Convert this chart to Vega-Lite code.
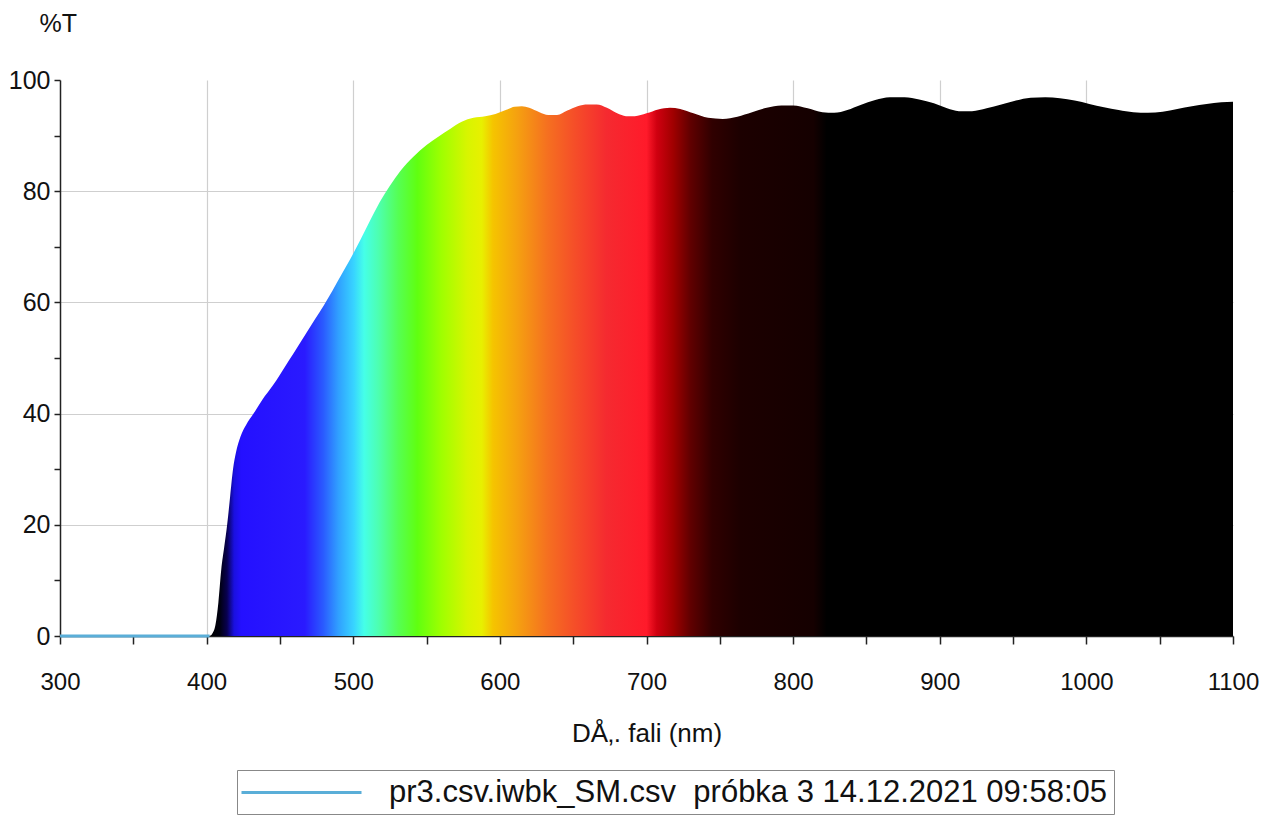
{
  "$schema": "https://vega.github.io/schema/vega-lite/v6.json",
  "width": 1173,
  "height": 556,
  "autosize": {"type": "none"},
  "padding": {"left": 60, "top": 80, "right": 47, "bottom": 193},
  "background": "white",
  "config": {
    "font": "Liberation Sans",
    "view": {"stroke": null},
    "axis": {
      "labelFont": "Liberation Sans",
      "titleFont": "Liberation Sans",
      "labelColor": "#111",
      "titleColor": "#111",
      "domainColor": "#222",
      "tickColor": "#222",
      "gridColor": "#cfcfcf",
      "gridWidth": 1.2
    }
  },
  "datasets": {
    "spectrum": [
      {"wl": 300, "T": 0}, {"wl": 350, "T": 0}, {"wl": 400, "T": 0}, {"wl": 402, "T": 0},
      {"wl": 404, "T": 0.5}, {"wl": 406, "T": 2}, {"wl": 408, "T": 6}, {"wl": 410, "T": 12},
      {"wl": 412, "T": 16}, {"wl": 414, "T": 20}, {"wl": 416, "T": 25}, {"wl": 418, "T": 30},
      {"wl": 420, "T": 33}, {"wl": 423, "T": 35.8}, {"wl": 427, "T": 38}, {"wl": 432, "T": 40},
      {"wl": 438, "T": 42.5}, {"wl": 445, "T": 45}, {"wl": 450, "T": 47}, {"wl": 456, "T": 49.5},
      {"wl": 462, "T": 52}, {"wl": 468, "T": 54.5}, {"wl": 474, "T": 57}, {"wl": 480, "T": 59.5},
      {"wl": 486, "T": 62.2}, {"wl": 492, "T": 65}, {"wl": 498, "T": 67.8}, {"wl": 505, "T": 71.3},
      {"wl": 512, "T": 75}, {"wl": 518, "T": 78}, {"wl": 525, "T": 81}, {"wl": 532, "T": 83.6},
      {"wl": 541, "T": 86.2}, {"wl": 550, "T": 88.3}, {"wl": 558, "T": 89.8}, {"wl": 566, "T": 91.2},
      {"wl": 574, "T": 92.5}, {"wl": 582, "T": 93.2}, {"wl": 590, "T": 93.5}, {"wl": 597, "T": 93.9},
      {"wl": 604, "T": 94.6}, {"wl": 610, "T": 95.2}, {"wl": 615, "T": 95.3}, {"wl": 620, "T": 95},
      {"wl": 627, "T": 94.2}, {"wl": 633, "T": 93.7}, {"wl": 639, "T": 93.7}, {"wl": 646, "T": 94.5},
      {"wl": 653, "T": 95.3}, {"wl": 660, "T": 95.6}, {"wl": 666, "T": 95.6}, {"wl": 673, "T": 95},
      {"wl": 680, "T": 94}, {"wl": 686, "T": 93.5}, {"wl": 692, "T": 93.5}, {"wl": 700, "T": 94},
      {"wl": 708, "T": 94.7}, {"wl": 716, "T": 95}, {"wl": 723, "T": 94.8}, {"wl": 732, "T": 94},
      {"wl": 742, "T": 93.2}, {"wl": 752, "T": 93}, {"wl": 762, "T": 93.4}, {"wl": 772, "T": 94.2},
      {"wl": 782, "T": 95}, {"wl": 792, "T": 95.4}, {"wl": 800, "T": 95.4}, {"wl": 810, "T": 94.9},
      {"wl": 820, "T": 94.2}, {"wl": 828, "T": 94.1}, {"wl": 837, "T": 94.6}, {"wl": 846, "T": 95.5},
      {"wl": 856, "T": 96.4}, {"wl": 866, "T": 96.9}, {"wl": 876, "T": 96.9}, {"wl": 886, "T": 96.5},
      {"wl": 896, "T": 95.8}, {"wl": 905, "T": 94.9}, {"wl": 913, "T": 94.4}, {"wl": 922, "T": 94.4},
      {"wl": 932, "T": 94.9}, {"wl": 942, "T": 95.6}, {"wl": 952, "T": 96.3}, {"wl": 962, "T": 96.8},
      {"wl": 972, "T": 96.9}, {"wl": 982, "T": 96.7}, {"wl": 992, "T": 96.3}, {"wl": 1002, "T": 95.7},
      {"wl": 1012, "T": 95.1}, {"wl": 1022, "T": 94.6}, {"wl": 1032, "T": 94.2}, {"wl": 1042, "T": 94.1},
      {"wl": 1052, "T": 94.3}, {"wl": 1062, "T": 94.8}, {"wl": 1072, "T": 95.3}, {"wl": 1082, "T": 95.7},
      {"wl": 1092, "T": 96}, {"wl": 1100, "T": 96.1}
    ]
  },
  "layer": [
    {
      "data": {"name": "spectrum"},
      "transform": [{"filter": "datum.wl <= 402"}],
      "mark": {"type": "line", "strokeWidth": 3, "interpolate": "monotone"},
      "encoding": {
        "x": {
          "field": "wl", "type": "quantitative",
          "scale": {"domain": [300, 1100], "nice": false, "zero": false},
          "axis": {
            "values": [300, 350, 400, 450, 500, 550, 600, 650, 700, 750, 800, 850, 900, 950, 1000, 1050, 1100],
            "labelExpr": "datum.value % 100 === 0 ? datum.label : ''",
            "format": "d",
            "labelOverlap": false,
            "labelFontSize": 24,
            "labelPadding": 26,
            "labelFlush": false,
            "tickSize": 8,
            "tickWidth": 1.5,
            "domainWidth": 1.5,
            "grid": true,
            "gridOpacity": {"condition": {"test": "datum.value % 100 !== 0 || datum.value === 300 || datum.value === 1100", "value": 0}, "value": 1},
            "title": "DÅ‚. fali (nm)",
            "titleFontSize": 26,
            "titleFontWeight": "normal",
            "titlePadding": 26
          }
        },
        "y": {
          "field": "T", "type": "quantitative",
          "scale": {"domain": [0, 100], "nice": false},
          "axis": {
            "values": [0, 10, 20, 30, 40, 50, 60, 70, 80, 90, 100],
            "labelExpr": "datum.value % 20 === 0 ? datum.label : ''",
            "labelOverlap": false,
            "labelFontSize": 25,
            "labelPadding": 4,
            "tickSize": 6,
            "tickWidth": 1.5,
            "domainWidth": 1.5,
            "grid": true,
            "gridOpacity": {"condition": {"test": "datum.value % 20 !== 0 || datum.value === 0 || datum.value === 100", "value": 0}, "value": 1},
            "title": "%T",
            "titleAngle": 0,
            "titleFontSize": 25,
            "titleFontWeight": "normal",
            "titleAlign": "left",
            "titleBaseline": "top",
            "titleX": -21,
            "titleY": -69
          }
        },
        "color": {
          "datum": "pr3.csv.iwbk_SM.csv\u00a0 próbka 3 14.12.2021 09:58:05",
          "type": "nominal",
          "scale": {"range": ["#5aaed8"]},
          "legend": {
            "title": null,
            "orient": "none",
            "legendX": 177,
            "legendY": 690,
            "symbolType": "M-4,0H4",
            "symbolSize": 900,
            "symbolStrokeWidth": 3,
            "symbolOffset": 42,
            "labelFontSize": 31,
            "labelFont": "Liberation Sans",
            "labelColor": "#111",
            "labelOffset": 71,
            "labelLimit": 2000,
            "padding": 6,
            "strokeColor": "#888",
            "fillColor": "white"
          }
        }
      }
    },
    {
      "data": {"name": "spectrum"},
      "transform": [{"filter": "datum.wl >= 402"}],
      "mark": {
        "type": "area",
        "interpolate": "monotone",
        "color": {
          "gradient": "linear",
          "x1": 0, "x2": 1, "y1": 0, "y2": 0,
          "stops": [
            {"offset": 0, "color": "#000000"},
            {"offset": 0.010, "color": "#000010"},
            {"offset": 0.017, "color": "#080050"},
            {"offset": 0.024, "color": "#1a10e0"},
            {"offset": 0.031, "color": "#2410ff"},
            {"offset": 0.093, "color": "#2a1aff"},
            {"offset": 0.111, "color": "#2a5aff"},
            {"offset": 0.126, "color": "#30a0ff"},
            {"offset": 0.141, "color": "#38d4ff"},
            {"offset": 0.151, "color": "#45ffe8"},
            {"offset": 0.165, "color": "#4dffb0"},
            {"offset": 0.184, "color": "#55ff55"},
            {"offset": 0.203, "color": "#60ff10"},
            {"offset": 0.227, "color": "#a0ff00"},
            {"offset": 0.252, "color": "#d8f500"},
            {"offset": 0.266, "color": "#e8f000"},
            {"offset": 0.277, "color": "#f5c400"},
            {"offset": 0.301, "color": "#f5a010"},
            {"offset": 0.330, "color": "#f57020"},
            {"offset": 0.355, "color": "#f55028"},
            {"offset": 0.388, "color": "#f52a30"},
            {"offset": 0.427, "color": "#ff1a2a"},
            {"offset": 0.437, "color": "#d00010"},
            {"offset": 0.453, "color": "#a00000"},
            {"offset": 0.470, "color": "#600000"},
            {"offset": 0.491, "color": "#300000"},
            {"offset": 0.519, "color": "#1c0000"},
            {"offset": 0.590, "color": "#150000"},
            {"offset": 0.603, "color": "#000000"},
            {"offset": 1, "color": "#000000"}
          ]
        }
      },
      "encoding": {
        "x": {"field": "wl", "type": "quantitative"},
        "y": {"field": "T", "type": "quantitative"}
      }
    },
    {
      "mark": {"type": "rule", "color": "#ff3358", "strokeWidth": 3},
      "encoding": {"y": {"datum": 100}}
    },
    {
      "mark": {"type": "rule", "color": "#111", "strokeWidth": 1.5},
      "encoding": {"x": {"datum": 1100}, "y": {"datum": 96}, "y2": {"datum": 100}}
    }
  ]
}
